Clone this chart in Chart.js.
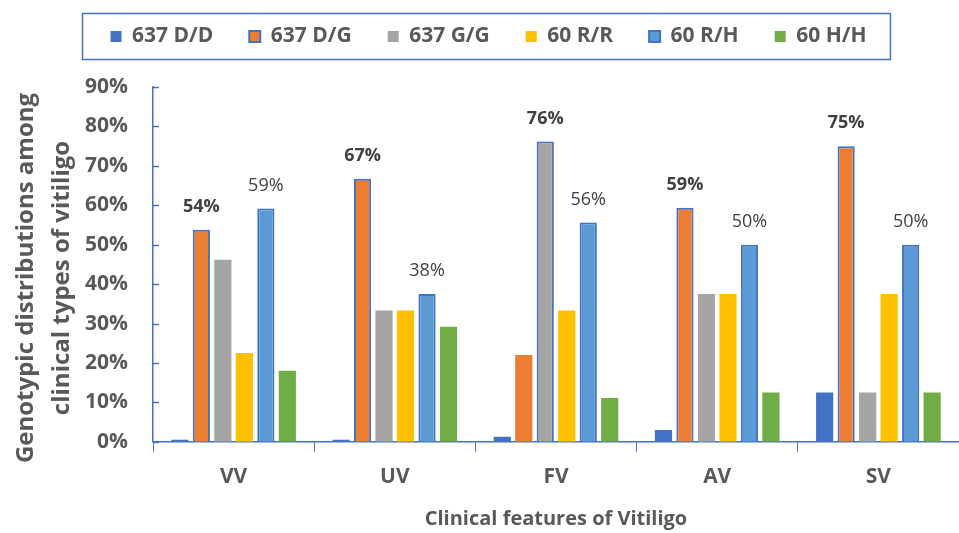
<!DOCTYPE html>
<html lang="en">
  <head>
    <meta charset="UTF-8" />
    <title>Genotypic distributions among clinical types of vitiligo</title>
    <script src="https://cdn.jsdelivr.net/npm/chart.js"></script>
    <style>
      html, body { margin: 0; padding: 0; background: #fff; }
      #wrap { width: 959px; height: 533px; position: relative; }
    </style>
  </head>
  <body>
    <div id="wrap"><canvas id="chart"></canvas></div>

    <script>
      // data (percent)
      const categories = ["VV", "UV", "FV", "AV", "SV"];
      const seriesNames = ["637 D/D", "637 D/G", "637 G/G", "60 R/R", "60 R/H", "60 H/H"];
      const dd637 = [0.5, 0.5, 1.3, 3.0, 12.5];
      const dg637 = [53.8, 66.7, 22.0, 59.4, 75.0];
      const gg637 = [46.2, 33.3, 76.2, 37.5, 12.5];
      const rr60 = [22.5, 33.3, 33.3, 37.5, 37.5];
      const rh60 = [59.2, 37.5, 55.6, 50.0, 50.0];
      const hh60 = [18.0, 29.2, 11.1, 12.5, 12.5];
      const yTicks = [0, 10, 20, 30, 40, 50, 60, 70, 80, 90];
      const yTitle = ["Genotypic distributions among", "clinical types of vitiligo"];

      // which bars carry a value label (bold = 637 labels, plain = 60 R/H labels)
      const dgLabelled = [true, true, false, true, true];
      const ggLabelled = [false, false, true, false, false];
      const rhLabelled = [true, true, true, true, true];

      const BLUE = "#4472C4";
      const TEXT = "#595959";
      const FONT = "'Open Sans', sans-serif";

      const outline = (flags) => flags.map((f) => (f ? 2 : 0));

      // extra room under the legend
      const legendGap = {
        id: "legendGap",
        beforeInit(chart) {
          const fit = chart.legend.fit;
          chart.legend.fit = function () {
            fit.call(this);
            this.height += 30;
          };
        },
      };

      // value labels above the marked bars
      const valueLabels = {
        id: "valueLabels",
        afterDatasetsDraw(chart) {
          const ctx = chart.ctx;
          const sets = [
            { ds: 1, flags: dgLabelled, bold: true },
            { ds: 2, flags: ggLabelled, bold: true },
            { ds: 4, flags: rhLabelled, bold: false },
          ];
          ctx.save();
          ctx.fillStyle = "#404040";
          ctx.textAlign = "center";
          ctx.textBaseline = "middle";
          sets.forEach((s) => {
            const meta = chart.getDatasetMeta(s.ds);
            const values = chart.data.datasets[s.ds].data;
            meta.data.forEach((bar, i) => {
              if (!s.flags[i]) return;
              ctx.font = (s.bold ? "bold " : "") + "18px " + FONT;
              ctx.fillText(Math.round(values[i]) + "%", bar.x, bar.y - 23);
            });
          });
          ctx.restore();
        },
      };

      // legend frame, inward y tick marks and the two-line y title
      const extras = {
        id: "extras",
        afterDraw(chart) {
          const ctx = chart.ctx;
          const lg = chart.legend;
          ctx.save();
          ctx.strokeStyle = BLUE;
          ctx.lineWidth = 1.5;
          if (lg && lg.legendHitBoxes.length) {
            const boxes = lg.legendHitBoxes;
            const l = boxes[0].left - 28;
            const r = boxes[boxes.length - 1].left + boxes[boxes.length - 1].width + 24;
            const cy = boxes[0].top + boxes[0].height / 2;
            ctx.strokeRect(l, cy - 23, r - l, 46);
          }
          const y = chart.scales.y;
          y.ticks.forEach((t) => {
            const py = Math.round(y.getPixelForValue(t.value)) + 0.5;
            ctx.beginPath();
            ctx.moveTo(y.right, py);
            ctx.lineTo(y.right + 6, py);
            ctx.stroke();
          });

          ctx.translate(0, 278);
          ctx.rotate(-Math.PI / 2);
          ctx.fillStyle = TEXT;
          ctx.font = "bold 24px " + FONT;
          ctx.textAlign = "center";
          ctx.textBaseline = "middle";
          ctx.fillText(yTitle[0], 0, 26);
          ctx.fillText(yTitle[1], 0, 62);
          ctx.restore();
        },
      };

      const ctx = document.getElementById("chart").getContext("2d");
      new Chart(ctx, {
        type: "bar",
        data: {
          labels: categories,
          datasets: [
            { label: seriesNames[0], data: dd637, backgroundColor: "#4472C4" },
            {
              label: seriesNames[1],
              data: dg637,
              backgroundColor: "#ED7D31",
              borderColor: BLUE,
              borderWidth: outline(dgLabelled),
            },
            {
              label: seriesNames[2],
              data: gg637,
              backgroundColor: "#A5A5A5",
              borderColor: BLUE,
              borderWidth: outline(ggLabelled),
            },
            { label: seriesNames[3], data: rr60, backgroundColor: "#FFC000" },
            {
              label: seriesNames[4],
              data: rh60,
              backgroundColor: "#5B9BD5",
              borderColor: BLUE,
              borderWidth: 2,
            },
            { label: seriesNames[5], data: hh60, backgroundColor: "#70AD47" },
          ],
        },
        options: {
          responsive: true,
          maintainAspectRatio: false,
          animation: false,
          categoryPercentage: 0.8,
          barPercentage: 0.8,
          layout: { padding: { top: -10, left: 18, right: 0, bottom: 2 } },
          plugins: {
            legend: {
              position: "top",
              labels: {
                boxWidth: 11,
                boxHeight: 11,
                padding: 36,
                color: TEXT,
                font: { family: FONT, size: 21, weight: "bold" },
              },
            },
            tooltip: { enabled: false },
          },
          scales: {
            x: {
              grid: {
                display: true,
                drawOnChartArea: false,
                color: BLUE,
                tickLength: 10,
              },
              border: { color: BLUE, width: 1.5 },
              ticks: {
                color: TEXT,
                padding: 13,
                font: { family: FONT, size: 21, weight: "bold" },
              },
              title: {
                display: true,
                text: "Clinical features of Vitiligo",
                color: TEXT,
                padding: { top: 4, bottom: 0 },
                font: { family: FONT, size: 20, weight: "bold" },
              },
            },
            y: {
              min: 0,
              max: 90,
              afterBuildTicks(scale) {
                scale.ticks = yTicks.map((v) => ({ value: v }));
              },
              afterFit(scale) {
                scale.width = 135;
              },
              grid: { display: false, drawTicks: false },
              border: { color: BLUE, width: 1.5 },
              ticks: {
                color: TEXT,
                padding: 25,
                callback: (v) => v + "%",
                font: { family: FONT, size: 21, weight: "bold" },
              },
            },
          },
        },
        plugins: [legendGap, valueLabels, extras],
      });
    </script>
  </body>
</html>
